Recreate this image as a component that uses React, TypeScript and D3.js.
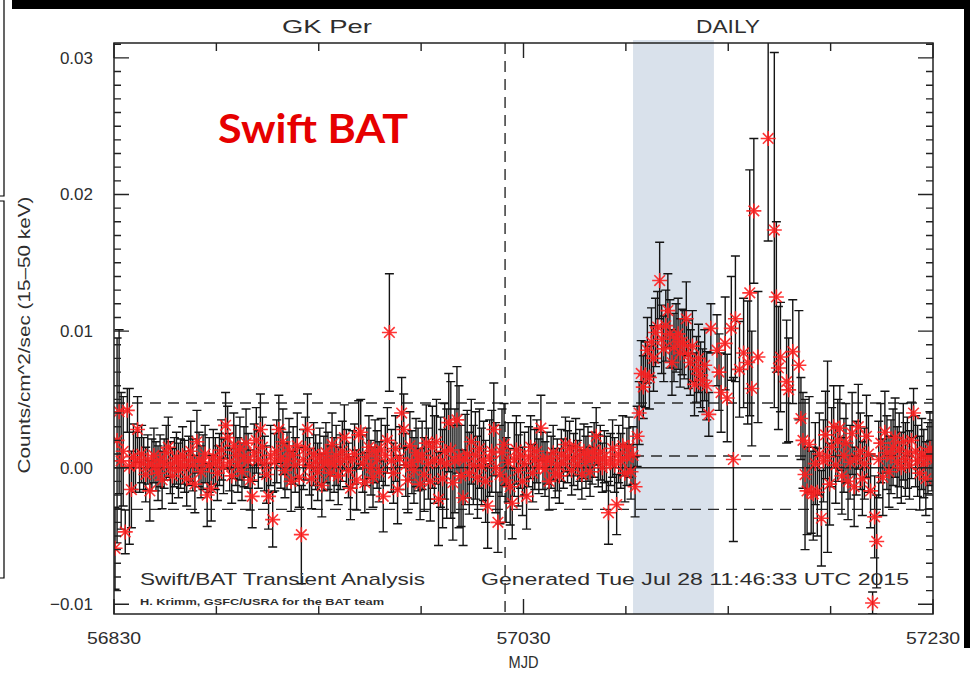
import React from 'react';
import * as d3 from 'd3';

const W = 970;
const H = 678;

// Daily bins, first bin centred on MJD 56830.5
const FIRST_DAY = 56830.5;

// Count rate in units of 1e-3 counts/cm^2/sec (null = no data that day), rows of 10 days
const rateMilli: (number | null)[] = [
  -5.9, 2.0, 4.1, 0.5, 1.2, -4.7, 4.2, 0.1, -1.6, 0.8, // 56830
  0.4, 2.8, 0.2, 1.0, 0.3, -0.5, 0.6, -1.7, 0.2, 0.9, // 56840
  0.1, -0.4, 0.5, -0.9, 0.3, 1.1, 1.5, 0.0, -0.6, 0.4, // 56850
  0.7, -0.2, 0.3, 0.9, 0.1, -0.8, 0.5, 1.2, 0.2, -1.2, // 56860
  1.9, 0.6, -0.3, 0.4, 1.0, -2.0, 0.2, -1.5, 0.8, 0.3, // 56870
  -0.4, 0.6, 1.3, 0.1, 3.1, 2.2, 0.4, -0.6, 1.6, 0.9, // 56880
  0.2, 1.4, -0.3, 0.8, 1.8, 0.5, -0.9, -2.1, 1.1, 2.0, // 56890
  0.6, 2.8, 1.5, 0.3, -0.5, -2.1, 0.9, -3.8, 0.4, 1.2, // 56900
  2.8, 0.7, 1.9, -0.2, 0.5, 1.3, -1.0, 0.9, 0.2, 1.6, // 56910
  -0.7, -4.9, 0.6, 1.4, 2.8, 0.1, -0.8, 1.0, 0.4, -0.3, // 56920
  0.8, -1.3, 0.3, 1.1, 0.5, -0.4, 1.7, 0.2, 0.9, -0.6, // 56930
  0.4, 1.2, 2.2, 0.7, -0.2, -1.5, 0.6, 1.0, -0.9, 2.4, // 56940
  2.6, 0.3, -1.1, 0.8, 1.5, 0.0, -0.7, 1.2, 0.6, -0.3, // 56950
  1.3, -2.1, 0.9, 2.0, 9.9, 0.5, -0.4, 1.4, -1.6, 0.7, // 56960
  4.0, 2.8, 0.2, -0.9, 1.6, 0.4, -0.2, 1.1, 0.6, -1.2, // 56970
  0.9, -0.5, 1.8, 0.3, -1.0, 1.5, 0.6, 1.9, -2.3, 0.4, // 56980
  -0.8, 1.2, 0.3, 3.3, 1.3, -1.1, 0.5, 3.5, 0.8, -0.6, // 56990
  -2.2, 0.6, 1.0, -0.4, 1.9, 0.2, 0.9, -0.7, 1.4, 0.1, // 57000
  0.5, -1.0, -2.8, 0.7, 1.2, 2.8, 0.0, -4.0, -0.5, 1.1, // 57010
  1.7, -0.9, 0.4, -1.4, -2.6, 0.6, 1.3, -0.2, 0.9, -1.0, // 57020
  0.3, -2.1, 0.8, 1.5, -0.4, 0.6, 1.2, 0.1, 2.9, 0.5, // 57030
  -0.1, 0.7, -1.0, 0.4, 1.1, -0.4, 0.2, -0.6, 0.9, 0.3, // 57040
  1.7, 0.8, 1.4, -0.2, 0.6, 1.5, 0.2, 0.9, -0.5, 1.2, // 57050
  0.4, 1.0, -0.3, 0.7, 1.3, 2.3, 0.5, 1.1, 0.0, 0.8, // 57060
  0.3, -3.3, 0.6, 1.4, 0.2, -2.7, 1.0, 0.5, 1.6, -0.4, // 57070
  0.8, 1.5, -0.3, 0.9, -1.4, 2.3, 4.0, 6.9, 5.9, 6.8, // 57080
  8.6, 6.6, 9.2, 8.0, 9.9, 10.3, 13.7, 9.4, 8.7, 10.4, // 57090
  11.5, 9.8, 7.7, 8.8, 9.5, 9.8, 8.4, 9.2, 9.0, 10.9, // 57100
  8.3, 7.7, 8.9, 6.1, 7.2, 8.0, 6.8, 6.4, 7.5, 6.0, // 57110
  3.9, 10.2, null, null, 8.6, 7.0, 5.5, null, 9.1, 5.1, // 57120
  null, 10.2, 0.6, 10.9, null, 7.2, null, 8.4, null, 7.7, // 57130
  12.8, 5.8, 18.8, null, 8.1, null, null, null, null, 24.1, // 57140
  null, null, 17.4, 12.5, 7.3, 8.1, null, null, 6.3, 5.7, // 57150
  null, 8.5, null, null, 7.5, 3.6, 2.0, -0.5, -1.7, 1.7, // 57160
  -1.8, -1.9, 0.3, -1.8, 1.0, -3.7, 0.5, 2.4, 0.8, -1.2, // 57170
  1.5, 3.0, 0.2, 2.0, 2.9, -0.6, 0.9, 1.8, -1.0, 0.4, // 57180
  2.5, -1.4, 0.7, 3.0, 1.2, -0.8, 0.3, 2.3, 1.0, -1.7, // 57190
  -9.9, -3.6, -5.4, 0.6, 1.8, -0.7, 2.6, 1.1, -0.3, 0.8, // 57200
  1.5, 2.2, 0.4, 1.3, 0.0, 1.9, 0.6, 1.1, 0.2, 2.0, // 57210
  4.0, 1.2, 0.5, -0.4, 1.0, 0.3, -0.8, 0.7, 1.4, 0.9, // 57220
];

// 1-sigma errors, same units and layout
const errMilli: number[] = [
  3.0, 7.5, 6.0, 5.0, 4.0, 1.6, 1.6, 5.7, 2.8, 2.4,
  2.2, 2.4, 2.0, 2.1, 1.9, 2.0, 1.8, 2.2, 1.9, 2.0,
  1.8, 2.0, 1.9, 2.1, 1.8, 2.0, 2.2, 1.9, 2.0, 1.8,
  1.9, 2.0, 1.8, 2.1, 1.9, 2.0, 1.8, 2.2, 1.9, 2.1,
  2.3, 2.0, 1.9, 2.0, 2.1, 2.3, 2.0, 2.4, 2.0, 1.9,
  2.0, 1.9, 2.2, 2.0, 2.4, 2.3, 2.1, 2.0, 2.4, 2.2,
  2.0, 2.3, 2.1, 2.2, 2.5, 2.0, 2.2, 2.3, 2.1, 2.4,
  2.1, 2.6, 2.2, 2.0, 2.1, 2.4, 2.2, 2.0, 2.1, 2.3,
  2.5, 2.2, 2.4, 2.0, 2.1, 2.3, 2.2, 2.1, 2.0, 2.4,
  2.2, 3.6, 2.2, 2.3, 2.6, 2.1, 2.2, 2.3, 2.0, 2.1,
  2.1, 2.3, 2.0, 2.2, 2.1, 2.0, 2.3, 2.0, 2.2, 2.1,
  2.0, 2.2, 2.4, 2.1, 2.0, 2.3, 2.1, 2.2, 2.2, 2.5,
  2.4, 2.1, 2.2, 2.1, 2.3, 2.0, 2.2, 2.3, 2.1, 2.2,
  2.3, 2.6, 2.2, 2.4, 4.3, 2.3, 2.2, 2.4, 2.5, 2.3,
  2.6, 2.6, 2.3, 2.4, 2.5, 2.3, 2.4, 2.5, 2.3, 2.6,
  2.5, 2.7, 2.8, 2.6, 2.9, 3.0, 3.2, 3.1, 3.4, 3.3,
  3.6, 3.5, 4.0, 3.6, 5.0, 4.2, 3.8, 3.9, 5.2, 3.7,
  3.5, 3.3, 3.2, 3.0, 3.1, 2.9, 3.2, 3.0, 2.9, 2.8,
  2.9, 3.0, 3.1, 2.8, 3.0, 3.4, 3.3, 2.2, 3.6, 3.2,
  3.0, 3.1, 2.9, 2.8, 2.6, 2.7, 2.5, 2.6, 2.4, 2.5,
  2.3, 2.4, 2.2, 2.3, 2.1, 2.2, 2.3, 2.0, 2.4, 2.1,
  2.0, 1.9, 2.1, 1.9, 2.0, 1.8, 1.9, 2.0, 1.9, 1.8,
  2.0, 1.9, 2.0, 1.8, 1.9, 2.1, 1.8, 1.9, 1.8, 2.0,
  1.9, 2.0, 1.8, 1.9, 2.0, 2.1, 1.9, 2.0, 1.8, 1.9,
  2.0, 2.3, 1.9, 2.1, 2.0, 2.2, 2.1, 2.0, 2.2, 2.1,
  2.1, 2.2, 2.0, 2.1, 2.2, 2.2, 2.3, 2.4, 2.3, 2.4,
  2.4, 2.3, 2.5, 2.4, 2.5, 2.6, 2.8, 2.5, 2.4, 2.6,
  2.7, 2.5, 2.4, 2.5, 2.5, 2.6, 2.5, 2.4, 2.5, 2.7,
  2.5, 2.4, 2.6, 2.3, 2.4, 2.5, 2.4, 2.3, 2.6, 2.5,
  1.6, 1.8, 0, 0, 2.6, 2.8, 2.9, 0, 3.4, 3.2,
  0, 3.8, 6.0, 4.6, 0, 3.5, 0, 4.0, 0, 4.5,
  9.0, 4.2, 5.3, 0, 4.8, 0, 0, 0, 0, 7.5,
  0, 0, 13.0, 5.5, 4.5, 4.0, 0, 0, 4.5, 3.8,
  0, 3.8, 0, 0, 4.0, 3.0, 3.5, 5.5, 3.2, 3.5,
  3.0, 3.4, 3.0, 3.2, 3.0, 3.5, 3.0, 3.2, 7.0, 3.0,
  2.9, 3.0, 2.8, 3.0, 3.1, 2.8, 2.7, 2.9, 2.8, 2.7,
  3.0, 2.9, 2.7, 3.1, 2.8, 2.7, 2.6, 3.0, 2.8, 2.7,
  0.8, 3.0, 3.4, 2.8, 2.9, 2.8, 3.0, 2.7, 2.6, 2.7,
  2.8, 2.9, 2.6, 2.7, 2.6, 2.8, 2.7, 2.6, 2.5, 2.8,
  1.8, 2.6, 2.6, 2.7, 2.6, 2.5, 2.7, 2.6, 2.7, 2.6,
];

const MILLI = 1e-3;

const X_DOMAIN = [56830, 57230];
const Y_DOMAIN = [-0.01071, 0.03109];
const xMajorTicks = [56830, 57030, 57230];
const xMajorLabels = ['56830', '57030', '57230'];
const xMinorTicks = [56880, 56930, 56980, 57080, 57130, 57180];
const yMajorTicks = [-0.01, 0, 0.01, 0.02, 0.03];
const yMajorLabels = ['\u22120.01', '0.00', '0.01', '0.02', '0.03'];

const UPPER_LEVEL = 0.00474;
const LOWER_LEVEL = -0.00305;
const RECENT_MEAN = 0.00086;
const RECENT_START = 57083.5;
const DIVIDER_MJD = 57021;
const SHADE_START = 57083.5;
const SHADE_END = 57123;

const PL = 114, PR = 933, PT = 43, PB = 614;
const FONT = '"Liberation Sans", Arial, Helvetica, sans-serif';
const INK = '#2e2e2e';

export default function App() {
  const x = d3.scaleLinear().domain(X_DOMAIN).range([PL, PR]);
  const y = d3.scaleLinear().domain(Y_DOMAIN).range([PB, PT]);

  const pts = rateMilli
    .map((v, i) => ({ t: FIRST_DAY + i, v, e: errMilli[i] }))
    .filter((p) => p.v !== null) as { t: number; v: number; e: number }[];

  const bars = d3.path();
  const stars = d3.path();
  const cap = 4.5;
  const r = 7.5;
  const d = 5.3;
  pts.forEach((p) => {
    const px = x(p.t);
    const py = y(p.v * MILLI);
    const y1 = y((p.v + p.e) * MILLI);
    const y0 = y((p.v - p.e) * MILLI);
    bars.moveTo(px, y1);
    bars.lineTo(px, y0);
    bars.moveTo(px - cap, y1);
    bars.lineTo(px + cap, y1);
    bars.moveTo(px - cap, y0);
    bars.lineTo(px + cap, y0);
    stars.moveTo(px - r, py);
    stars.lineTo(px + r, py);
    stars.moveTo(px, py - r);
    stars.lineTo(px, py + r);
    stars.moveTo(px - d, py - d);
    stars.lineTo(px + d, py + d);
    stars.moveTo(px - d, py + d);
    stars.lineTo(px + d, py - d);
  });

  const ticks = d3.path();
  const yMinor = d3.range(-10, 32).map((k) => k * MILLI);
  yMinor.forEach((v) => {
    const yy = y(v);
    ticks.moveTo(PL, yy);
    ticks.lineTo(PL + 7, yy);
    ticks.moveTo(PR, yy);
    ticks.lineTo(PR - 7, yy);
  });
  yMajorTicks.forEach((v) => {
    const yy = y(v);
    ticks.moveTo(PL, yy);
    ticks.lineTo(PL + 15, yy);
    ticks.moveTo(PR, yy);
    ticks.lineTo(PR - 15, yy);
  });
  xMinorTicks.forEach((t) => {
    const xx = x(t);
    ticks.moveTo(xx, PB);
    ticks.lineTo(xx, PB - 8);
    ticks.moveTo(xx, PT);
    ticks.lineTo(xx, PT + 8);
  });
  xMajorTicks.forEach((t) => {
    const xx = x(t);
    ticks.moveTo(xx, PB);
    ticks.lineTo(xx, PB - 15);
    ticks.moveTo(xx, PT);
    ticks.lineTo(xx, PT + 15);
  });

  const dash = '11,7';

  return (
    <svg
      width={W}
      height={H}
      viewBox={`0 0 ${W} ${H}`}
      style={{ position: 'absolute', left: 0, top: 0, background: '#fff' }}
    >
      <defs>
        <clipPath id="plotclip">
          <rect x={PL} y={PT} width={PR - PL} height={PB - PT} />
        </clipPath>
      </defs>
      <rect x={0} y={0} width={W} height={H} fill="#fff" />

      {/* screenshot frame decorations */}
      <rect x={12} y={0} width={W - 12} height={9} fill="#000" />
      <rect x={964} y={0} width={6} height={648} fill="#000" />
      <path d="M4,0 V196 H0 M0,201 H4 V578 H0" fill="none" stroke="#000" strokeWidth={1.2} />

      {/* shaded interval */}
      <rect
        x={x(SHADE_START)}
        y={PT - 3}
        width={x(SHADE_END) - x(SHADE_START)}
        height={PB - PT + 3}
        fill="#d9e1eb"
      />

      {/* reference lines */}
      <g stroke="#2a2a2a" strokeWidth={1.4} fill="none">
        <line x1={PL} x2={PR} y1={y(0)} y2={y(0)} />
        <line x1={PL} x2={PR} y1={y(UPPER_LEVEL)} y2={y(UPPER_LEVEL)} strokeDasharray={dash} />
        <line x1={PL} x2={PR} y1={y(LOWER_LEVEL)} y2={y(LOWER_LEVEL)} strokeDasharray={dash} />
        <line x1={x(RECENT_START)} x2={PR} y1={y(RECENT_MEAN)} y2={y(RECENT_MEAN)} strokeDasharray={dash} />
        <line x1={x(DIVIDER_MJD)} x2={x(DIVIDER_MJD)} y1={PT} y2={PB} strokeDasharray={dash} />
      </g>

      {/* data */}
      <g clipPath="url(#plotclip)">
        <path d={bars.toString()} fill="none" stroke="#141414" strokeWidth={1.4} />
        <path d={stars.toString()} fill="none" stroke="#ff1f1f" strokeWidth={1.6} strokeOpacity={0.9} />
      </g>

      {/* frame and ticks */}
      <rect x={PL} y={PT} width={PR - PL} height={PB - PT} fill="none" stroke="#222" strokeWidth={1.5} />
      <path d={ticks.toString()} fill="none" stroke="#222" strokeWidth={1.4} />

      {/* tick labels */}
      <g fontFamily={FONT} fill={INK} fontSize={17}>
        {yMajorTicks.map((v, i) => (
          <text key={'yl' + i} x={93} y={y(v) + 6} textAnchor="end">
            {yMajorLabels[i]}
          </text>
        ))}
        {xMajorTicks.map((t, i) => (
          <text key={'xl' + i} x={x(t)} y={644} textAnchor="middle" textLength={54} lengthAdjust="spacingAndGlyphs">
            {xMajorLabels[i]}
          </text>
        ))}
        <text x={x(57030)} y={668} textAnchor="middle" textLength={30} lengthAdjust="spacingAndGlyphs">MJD</text>
        <text
          transform="translate(30,335) rotate(-90)"
          textAnchor="middle"
          textLength={277}
          lengthAdjust="spacingAndGlyphs"
        >
          Counts/cm^2/sec (15–50 keV)
        </text>
        <text x={327} y={33} textAnchor="middle" fontSize={19} textLength={90} lengthAdjust="spacingAndGlyphs">GK Per</text>
        <text x={728} y={33} textAnchor="middle" fontSize={19} textLength={64} lengthAdjust="spacingAndGlyphs">DAILY</text>
        <text x={140} y={585} textLength={285} lengthAdjust="spacingAndGlyphs">Swift/BAT Transient Analysis</text>
        <text x={481} y={585} textLength={428} lengthAdjust="spacingAndGlyphs">Generated Tue Jul 28 11:46:33 UTC 2015</text>
        <text x={140} y={605} fontSize={9.5} fontWeight="bold" textLength={244} lengthAdjust="spacingAndGlyphs">
          H. Krimm, GSFC/USRA for the BAT team
        </text>
      </g>

      <text
        x={218}
        y={143}
        fontFamily='Lato, "Open Sans", sans-serif'
        fontWeight="bold"
        fontSize={40}
        fill="#e60000"
        textLength={190}
        lengthAdjust="spacingAndGlyphs"
      >
        Swift BAT
      </text>
    </svg>
  );
}
